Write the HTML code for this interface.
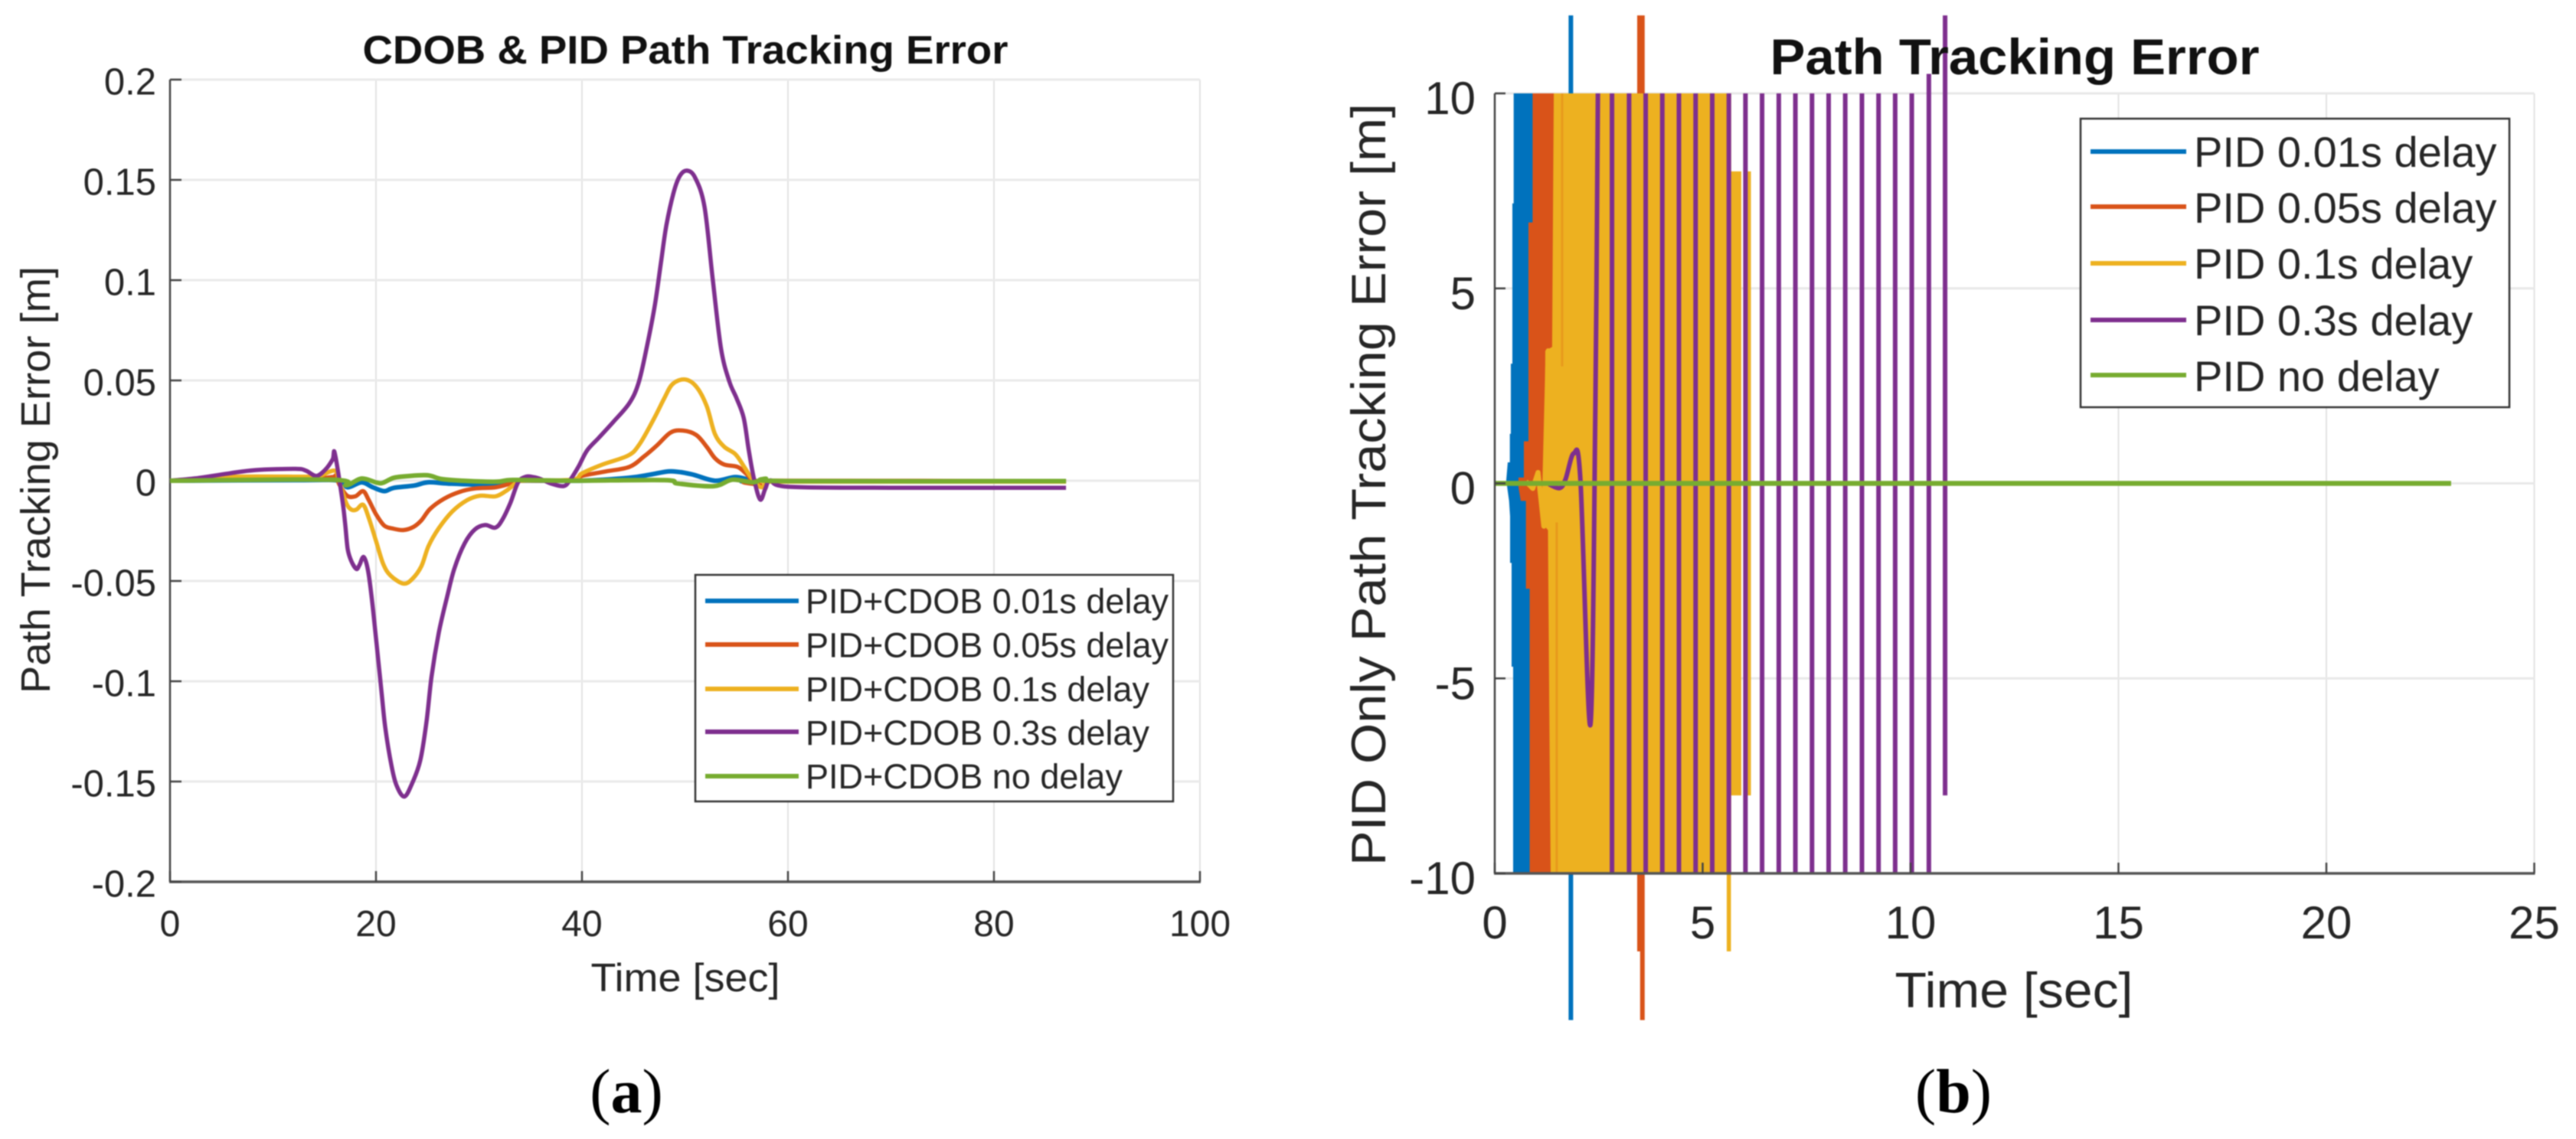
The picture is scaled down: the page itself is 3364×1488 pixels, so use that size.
<!DOCTYPE html>
<html>
<head>
<meta charset="utf-8">
<title>Path Tracking Error</title>
<style>
html,body{margin:0;padding:0;background:#fff;}
svg{display:block;filter:blur(0.9px);}
text{font-family:"Liberation Sans",Arial,sans-serif;fill:#262626;}
.serif{font-family:"Liberation Serif","Times New Roman",serif;fill:#000;}
</style>
</head>
<body>
<svg id="figure" xmlns="http://www.w3.org/2000/svg" width="3364" height="1488" viewBox="0 0 3364 1488">
  <rect width="3364" height="1488" fill="#fff"/>
  <g id="chartA"></g>
  <g id="chartB"></g>

  <text x="895" y="83" text-anchor="middle" font-size="52" font-weight="bold" style="fill:#111" textLength="843" lengthAdjust="spacingAndGlyphs">CDOB &amp; PID Path Tracking Error</text>
  <text x="895" y="1295" text-anchor="middle" font-size="52" textLength="247" lengthAdjust="spacingAndGlyphs">Time [sec]</text>
  <text transform="translate(65,627) rotate(-90)" text-anchor="middle" font-size="54" textLength="558" lengthAdjust="spacingAndGlyphs">Path Tracking Error [m]</text>

  <g>
    <rect x="908" y="751" width="624" height="296" fill="#fff" stroke="#333" stroke-width="2.5"/>
    <line x1="921" x2="1043" y1="785" y2="785" stroke="#0072BD" stroke-width="6"/>
    <line x1="921" x2="1043" y1="842" y2="842" stroke="#D95319" stroke-width="6"/>
    <line x1="921" x2="1043" y1="900" y2="900" stroke="#EDB120" stroke-width="6"/>
    <line x1="921" x2="1043" y1="956" y2="956" stroke="#7E2F8E" stroke-width="6"/>
    <line x1="921" x2="1043" y1="1014" y2="1014" stroke="#77AC30" stroke-width="6"/>
    <text x="1052" y="801" font-size="45">PID+CDOB 0.01s delay</text>
    <text x="1052" y="858.5" font-size="45">PID+CDOB 0.05s delay</text>
    <text x="1052" y="916" font-size="45">PID+CDOB 0.1s delay</text>
    <text x="1052" y="973" font-size="45">PID+CDOB 0.3s delay</text>
    <text x="1052" y="1030" font-size="45">PID+CDOB no delay</text>
  </g>

  <text x="2631" y="97" text-anchor="middle" font-size="66" font-weight="bold" style="fill:#111" textLength="639" lengthAdjust="spacingAndGlyphs">Path Tracking Error</text>
  <text x="2630" y="1316" text-anchor="middle" font-size="65" textLength="311" lengthAdjust="spacingAndGlyphs">Time [sec]</text>
  <text transform="translate(1809,633) rotate(-90)" text-anchor="middle" font-size="63" textLength="996" lengthAdjust="spacingAndGlyphs">PID Only Path Tracking Error [m]</text>

  <g>
    <rect x="2717" y="155" width="560" height="377" fill="#fff" stroke="#333" stroke-width="2.5"/>
    <line x1="2730" x2="2855" y1="198" y2="198" stroke="#0072BD" stroke-width="6"/>
    <line x1="2730" x2="2855" y1="270" y2="270" stroke="#D95319" stroke-width="6"/>
    <line x1="2730" x2="2855" y1="344" y2="344" stroke="#EDB120" stroke-width="6"/>
    <line x1="2730" x2="2855" y1="418" y2="418" stroke="#7E2F8E" stroke-width="6"/>
    <line x1="2730" x2="2855" y1="490" y2="490" stroke="#77AC30" stroke-width="6"/>
    <text x="2865" y="218" font-size="56">PID 0.01s delay</text>
    <text x="2865" y="291" font-size="56">PID 0.05s delay</text>
    <text x="2865" y="364" font-size="56">PID 0.1s delay</text>
    <text x="2865" y="438" font-size="56">PID 0.3s delay</text>
    <text x="2865" y="511" font-size="56">PID no delay</text>
  </g>

  <text class="serif" x="818" y="1453" text-anchor="middle" font-size="82">(<tspan font-weight="bold">a</tspan>)</text>
  <text class="serif" x="2551" y="1453" text-anchor="middle" font-size="82">(<tspan font-weight="bold">b</tspan>)</text>
</svg>

<script>
// ---------- Chart A data ----------
const aXTicks = [0, 20, 40, 60, 80, 100];
const aYTicks = [0.2, 0.15, 0.1, 0.05, 0, -0.05, -0.1, -0.15, -0.2];
const aYTickLabels = ['0.2', '0.15', '0.1', '0.05', '0', '-0.05', '-0.1', '-0.15', '-0.2'];

const tBlueA = [0, 13, 16.4, 17.25, 18.6, 19.7, 20.8, 21.7, 23.7, 25.05, 27, 30.4, 32.35, 33.7, 40, 44.5, 46.6, 48.6, 50.6, 52.9, 54.9, 56.6, 58, 87];
const vBlueA = [0, 0.0003, 0, -0.0033, -0.0008, -0.0033, -0.0052, -0.0036, -0.0024, -0.0008, -0.0014, -0.002, -0.0014, 0, 0, 0.0014, 0.003, 0.0047, 0.0033, 0, 0.0018, 0, -0.0003, -0.0003];

const tOrangeA = [0, 13, 15.7, 16.1, 16.45, 17.2, 18, 18.75, 19.3, 20, 20.8, 21.66, 22.65, 23.65, 24.4, 25.25, 26.6, 28.1, 29.6, 31.6, 32.8, 33.8, 39, 40, 42.3, 44.6, 46, 47.3, 48.6, 49.8, 51.1, 52.1, 52.9, 53.8, 55.1, 55.9, 56.6, 57.3, 58, 87];
const vOrangeA = [0, 0.001, 0.0018, 0.0024, -0.002, -0.0075, -0.0078, -0.0052, -0.0097, -0.0167, -0.0224, -0.0239, -0.0246, -0.023, -0.0198, -0.0141, -0.009, -0.0056, -0.0039, -0.0033, -0.0018, 0, 0, 0.0024, 0.0046, 0.0069, 0.012, 0.0177, 0.024, 0.025, 0.0228, 0.017, 0.0113, 0.0081, 0.0069, 0.0037, 0, -0.002, 0, -0.0003];

const tYellowA = [0, 6, 13.2, 14.5, 16, 16.45, 17.1, 17.6, 18.1, 18.75, 19.3, 20, 20.7, 21.4, 22.65, 23.5, 24.4, 25.1, 26.1, 27.4, 28.85, 30.1, 31.6, 32.6, 33.55, 34.05, 39, 40, 42, 44.5, 45.6, 47, 48, 48.8, 50, 51.1, 52.1, 52.9, 53.8, 54.9, 55.75, 56.5, 57.4, 58.2, 60, 87];
const vYellowA = [0, 0.002, 0.002, 0.0024, 0.005, -0.0008, -0.011, -0.0144, -0.0144, -0.012, -0.0186, -0.03, -0.0415, -0.0472, -0.0513, -0.0491, -0.0427, -0.0326, -0.0237, -0.0154, -0.0097, -0.0075, -0.0078, -0.0052, -0.0014, 0, 0.0005, 0.0037, 0.0081, 0.0126, 0.0183, 0.031, 0.0412, 0.0482, 0.0505, 0.0469, 0.0374, 0.0234, 0.017, 0.0132, 0.0069, 0.0011, -0.0033, -0.0005, -0.0005, -0.0005];

const tPurpleA = [0, 2.5, 5.8, 8.3, 12.2, 13.2, 14.2, 15.1, 15.8, 16.0, 16.7, 17, 17.25, 17.6, 18.1, 18.4, 18.8, 19.2, 19.55, 20.05, 20.55, 20.9, 21.5, 22, 22.75, 23.5, 24.3, 24.9, 25.4, 26.1, 26.9, 27.6, 28.6, 29.6, 30.6, 31.6, 32.3, 33.06, 33.8, 34.55, 35.3, 36, 37, 38.2, 38.8, 39.65, 40.5, 41.65, 43, 44.6, 45.5, 46.3, 47.1, 47.7, 48.2, 48.9, 49.5, 50.2, 51, 51.9, 52.7, 53.5, 54.3, 55, 55.7, 56.2, 56.7, 57.3, 57.8, 58.3, 60, 70, 87];
const vPurpleA = [0, 0.0012, 0.0037, 0.0053, 0.0059, 0.005, 0.0024, 0.0056, 0.0107, 0.0137, -0.0084, -0.021, -0.034, -0.04, -0.044, -0.042, -0.038, -0.044, -0.0567, -0.081, -0.106, -0.123, -0.142, -0.152, -0.1575, -0.151, -0.1395, -0.1204, -0.0975, -0.0758, -0.058, -0.044, -0.0313, -0.0243, -0.0221, -0.0234, -0.0192, -0.0109, -0.0008, 0.002, 0.0018, 0.0008, -0.0014, -0.0027, 0, 0.0069, 0.0151, 0.0215, 0.0291, 0.0387, 0.0489, 0.0667, 0.0883, 0.11, 0.1275, 0.1437, 0.152, 0.1546, 0.151, 0.1364, 0.1003, 0.0658, 0.0496, 0.0412, 0.0313, 0.015, 0.001, -0.0094, -0.004, 0.0002, -0.003, -0.0035, -0.0035];

const tGreenA = [0, 15.75, 17.1, 18.6, 20.1, 20.7, 21.7, 23.1, 25, 26.4, 28.4, 31.7, 33.35, 39, 48, 49.3, 52.8, 54.6, 56.6, 57.8, 60, 87];
const vGreenA = [0, 0.0005, -0.0023, 0.0011, -0.001, -0.001, 0.0014, 0.0023, 0.0027, 0.0008, 0, -0.0005, 0.0004, 0, 0.0003, -0.0014, -0.0027, 0.0005, -0.0008, 0.001, -0.0002, -0.0002];

// ---------- Chart B data ----------
const bXTicks = [0, 5, 10, 15, 20, 25];
const bYTicks = [10, 5, 0, -5, -10];
const bYTickLabels = ['10', '5', '0', '-5', '-10'];

// Dense oscillation envelopes: error level and the earliest time the band reaches that level
const blueLevels = [10, 7.18, 7.18, 3.07, 3.07, 1.27, 1.27, 0.54, 0.54, 0.08, -0.45, -0.85, -2.04, -2.04, -4.7, -4.7, -10];
const blueBandStart = [0.455, 0.455, 0.424, 0.424, 0.387, 0.387, 0.363, 0.363, 0.313, 0.276, 0.344, 0.368, 0.368, 0.405, 0.405, 0.442, 0.442];
const orangeLevels = [10, 6.69, 6.69, 1.08, 1.08, 0.15, 0.15, -0.1, -0.45, -0.45, -2.7, -2.7, -10];
const orangeBandStart = [0.91, 0.91, 0.81, 0.81, 0.7, 0.7, 0.57, 0.57, 0.626, 0.75, 0.75, 0.84, 0.84];
const yellowLevels = [10, 3.5, 3.4, 0.8, -1.1, -1.2, -5.5, -10];
const yellowBandStart = [1.42, 1.38, 1.215, 1.2, 1.2, 1.28, 1.31, 1.345];
const blueBandEnd = 1;
const orangeBandEnd = 1.6;
const yellowEndLevels = [10, 8, 8, -8, -8, -10];
const yellowBandEnd = [5.685, 5.685, 5.93, 5.93, 5.685, 5.685];

// Individual spikes
const blueSpikeT = [1.83];
const blueSpikeHi = [12];
const blueSpikeLo = [-13.76];
const orangeSpikeT = [3.48, 3.55];
const orangeSpikeHi = [12, 12];
const orangeSpikeLo = [-12, -13.76];
const yellowSpikeT = [5.63, 6.11];
const yellowSpikeHi = [10, 8];
const yellowSpikeLo = [-12, -8];
const purpleSpikeT = [2.82, 3.23, 3.63, 4.03, 4.43, 4.83, 5.23, 5.63, 6.03, 6.43, 6.83, 7.23, 7.63, 8.03, 8.43, 8.83, 9.23, 9.63, 10.03, 10.44, 10.83];
const purpleSpikeHi = [10, 10, 10, 10, 10, 10, 10, 10, 10, 10, 10, 10, 10, 10, 10, 10, 10, 10, 10, 10.5, 12];
const purpleSpikeLo = [-10, -10, -10, -10, -10, -10, -10, -10, -10, -10, -10, -10, -10, -10, -10, -10, -10, -10, -10, -10, -8];
const streakT = [1.62, 1.49];
const streakHi = [10, -1];
const streakLo = [3, -10];

// Readable start-up wiggles
const tYellowB = [0.75, 0.915, 1.04, 1.18, 1.283, 1.4];
const vYellowB = [0.05, -0.13, 0.28, -1.1, 3.4, 0];
const tPurpleB = [1.3, 1.56, 1.7, 1.9, 2.06, 2.3, 2.42, 2.48];
const vPurpleB = [-0.02, -0.12, 0.1, 0.77, 0.08, -6.19, 2, 10];
const tGreenB = [0, 5, 10, 15, 20, 23];
const vGreenB = [0, 0, 0, 0, 0, 0];

const NS = 'http://www.w3.org/2000/svg';
const COLORS = {blue: '#0072BD', orange: '#D95319', yellow: '#EDB120', purple: '#7E2F8E', green: '#77AC30'};

function make(parent, tag, attrs) {
  const el = document.createElementNS(NS, tag);
  for (const k in attrs) el.setAttribute(k, attrs[k]);
  parent.appendChild(el);
  return el;
}

// Axis functions
const xA = t => 222 + 13.45 * t;
const yA = v => 628 - 2620 * v;
const xB = t => 1952 + 54.3 * t;
const yB = v => 631.5 - 50.95 * v;

function linePoints(ts, vs, xf, yf) {
  return ts.map((t, i) => xf(t).toFixed(1) + ',' + yf(vs[i]).toFixed(1)).join(' ');
}
// Smooth curve passing through every data point
function smoothPath(ts, vs, xf, yf) {
  const p = ts.map((t, i) => [xf(t), yf(vs[i])]);
  let d = 'M' + p[0][0].toFixed(1) + ' ' + p[0][1].toFixed(1);
  for (let i = 0; i < p.length - 1; i++) {
    const a = p[Math.max(i - 1, 0)], b = p[i], c = p[i + 1], e = p[Math.min(i + 2, p.length - 1)];
    const k = 1 / 6;
    d += 'C' + (b[0] + (c[0] - a[0]) * k).toFixed(1) + ' ' + (b[1] + (c[1] - a[1]) * k).toFixed(1) + ' ' +
      (c[0] - (e[0] - b[0]) * k).toFixed(1) + ' ' + (c[1] - (e[1] - b[1]) * k).toFixed(1) + ' ' +
      c[0].toFixed(1) + ' ' + c[1].toFixed(1);
  }
  return d;
}

// ---------- Draw chart A ----------
const gA = document.getElementById('chartA');
aXTicks.forEach(function (t) {
  const grid = make(gA, 'line', {x1: xA(t), x2: xA(t), y1: yA(0.2), y2: yA(-0.2), stroke: '#e3e3e3', 'stroke-width': 2});
  
  
});
aYTicks.forEach(function (v) {
  const grid = make(gA, 'line', {x1: xA(0), x2: xA(100), y1: yA(v), y2: yA(v), stroke: '#eaeaea', 'stroke-width': 3});
  
  
});
const axisAx = make(gA, 'line', {x1: xA(0) - 1, x2: xA(100) + 1, y1: yA(-0.2), y2: yA(-0.2), stroke: '#555', 'stroke-width': 3.5});


const axisAy = make(gA, 'line', {x1: xA(0), x2: xA(0), y1: yA(0.2), y2: yA(-0.2), stroke: '#444', 'stroke-width': 2.5});


aXTicks.forEach(function (t) {
  const tick = make(gA, 'line', {x1: xA(t), x2: xA(t), y1: yA(-0.2), y2: yA(-0.2) - 14, stroke: '#444', 'stroke-width': 2.5});
  
  
  const label = make(gA, 'text', {x: xA(t), y: 1223, 'text-anchor': 'middle', 'font-size': 48});
  
  
  label.textContent = String(t);
});
aYTicks.forEach(function (v, i) {
  const tick = make(gA, 'line', {x1: xA(0), x2: xA(0) + 15, y1: yA(v), y2: yA(v), stroke: '#444', 'stroke-width': 2.5});
  
  
  const label = make(gA, 'text', {x: 204, y: yA(v) + 19.5, 'text-anchor': 'end', 'font-size': 49});
  
  
  label.textContent = aYTickLabels[i];
});
const lineAttrs = {fill: 'none', 'stroke-linejoin': 'round', 'stroke-linecap': 'butt'};
function seriesA(ts, vs, color, w) {
  return make(gA, 'path', Object.assign({d: smoothPath(ts, vs, xA, yA), stroke: color, 'stroke-width': w}, lineAttrs));
}
const sa1 = seriesA(tBlueA, vBlueA, COLORS.blue, 6);


const sa2 = seriesA(tOrangeA, vOrangeA, COLORS.orange, 5.5);


const sa3 = seriesA(tYellowA, vYellowA, COLORS.yellow, 5.5);


const sa4 = seriesA(tPurpleA, vPurpleA, COLORS.purple, 5.5);


const sa5 = seriesA(tGreenA, vGreenA, COLORS.green, 6);



// ---------- Draw chart B ----------
const gB = document.getElementById('chartB');
bXTicks.forEach(function (t) {
  const grid = make(gB, 'line', {x1: xB(t), x2: xB(t), y1: yB(10), y2: yB(-10), stroke: '#e3e3e3', 'stroke-width': 2});
  
  
});
bYTicks.forEach(function (v) {
  const grid = make(gB, 'line', {x1: xB(0), x2: xB(25), y1: yB(v), y2: yB(v), stroke: '#e8e8e8', 'stroke-width': 3});
  
  
});

function bandPath(levels, starts, endTs, endLevels) {
  let pts = levels.map((v, i) => xB(starts[i]).toFixed(1) + ',' + yB(v).toFixed(1));
  const right = endLevels.map((v, i) => xB(endTs[i]).toFixed(1) + ',' + yB(v).toFixed(1));
  return pts.concat(right.reverse()).join(' ');
}
function spikes(ts, his, los) {
  return ts.map((t, i) => 'M' + xB(t).toFixed(1) + ' ' + yB(his[i]).toFixed(1) + 'L' + xB(t).toFixed(1) + ' ' + yB(los[i]).toFixed(1)).join('');
}

const blueBand = make(gB, 'polygon', {points: bandPath(blueLevels, blueBandStart, [blueBandEnd, blueBandEnd], [10, -10]), fill: COLORS.blue});


const blueSpike = make(gB, 'path', {d: spikes(blueSpikeT, blueSpikeHi, blueSpikeLo), stroke: COLORS.blue, 'stroke-width': 6, fill: 'none'});



const orangeBand = make(gB, 'polygon', {points: bandPath(orangeLevels, orangeBandStart, [orangeBandEnd, orangeBandEnd], [10, -10]), fill: COLORS.orange});


const orangeSpike = make(gB, 'path', {d: spikes(orangeSpikeT, orangeSpikeHi, orangeSpikeLo), stroke: COLORS.orange, 'stroke-width': 6, fill: 'none'});



const yellowBand = make(gB, 'polygon', {points: bandPath(yellowLevels, yellowBandStart, yellowBandEnd, yellowEndLevels), fill: COLORS.yellow});


const orangeStreak = make(gB, 'path', {d: spikes(streakT, streakHi, streakLo), stroke: '#E8991C', 'stroke-width': 3, fill: 'none'});


const yellowSpike = make(gB, 'path', {d: spikes(yellowSpikeT, yellowSpikeHi, yellowSpikeLo), stroke: COLORS.yellow, 'stroke-width': 5.5, fill: 'none'});


const yellowWiggle = make(gB, 'polyline', Object.assign({points: linePoints(tYellowB, vYellowB, xB, yB), stroke: COLORS.yellow, 'stroke-width': 6.5}, lineAttrs));



const purpleWiggle = make(gB, 'path', Object.assign({d: smoothPath(tPurpleB, vPurpleB, xB, yB), stroke: COLORS.purple, 'stroke-width': 6}, lineAttrs));


const purpleSpike = make(gB, 'path', {d: spikes(purpleSpikeT, purpleSpikeHi, purpleSpikeLo), stroke: COLORS.purple, 'stroke-width': 6, fill: 'none'});



const greenLine = make(gB, 'polyline', Object.assign({points: linePoints(tGreenB, vGreenB, xB, yB), stroke: COLORS.green, 'stroke-width': 6.5}, lineAttrs));



const axisBx = make(gB, 'line', {x1: xB(0) - 1, x2: xB(25) + 1, y1: yB(-10), y2: yB(-10), stroke: '#555', 'stroke-width': 3.5});


const axisBy = make(gB, 'line', {x1: xB(0), x2: xB(0), y1: yB(10), y2: yB(-10), stroke: '#444', 'stroke-width': 2.5});


bXTicks.forEach(function (t) {
  const tick = make(gB, 'line', {x1: xB(t), x2: xB(t), y1: yB(-10), y2: yB(-10) - 14, stroke: '#444', 'stroke-width': 2.5});
  
  
  const label = make(gB, 'text', {x: xB(t), y: 1226, 'text-anchor': 'middle', 'font-size': 60});
  
  
  label.textContent = String(t);
});
bYTicks.forEach(function (v, i) {
  const tick = make(gB, 'line', {x1: xB(0), x2: xB(0) + 14, y1: yB(v), y2: yB(v), stroke: '#444', 'stroke-width': 2.5});
  
  
  const label = make(gB, 'text', {x: 1927, y: yB(v) + 27, 'text-anchor': 'end', 'font-size': 60});
  
  
  label.textContent = bYTickLabels[i];
});
</script>
</body>
</html>
